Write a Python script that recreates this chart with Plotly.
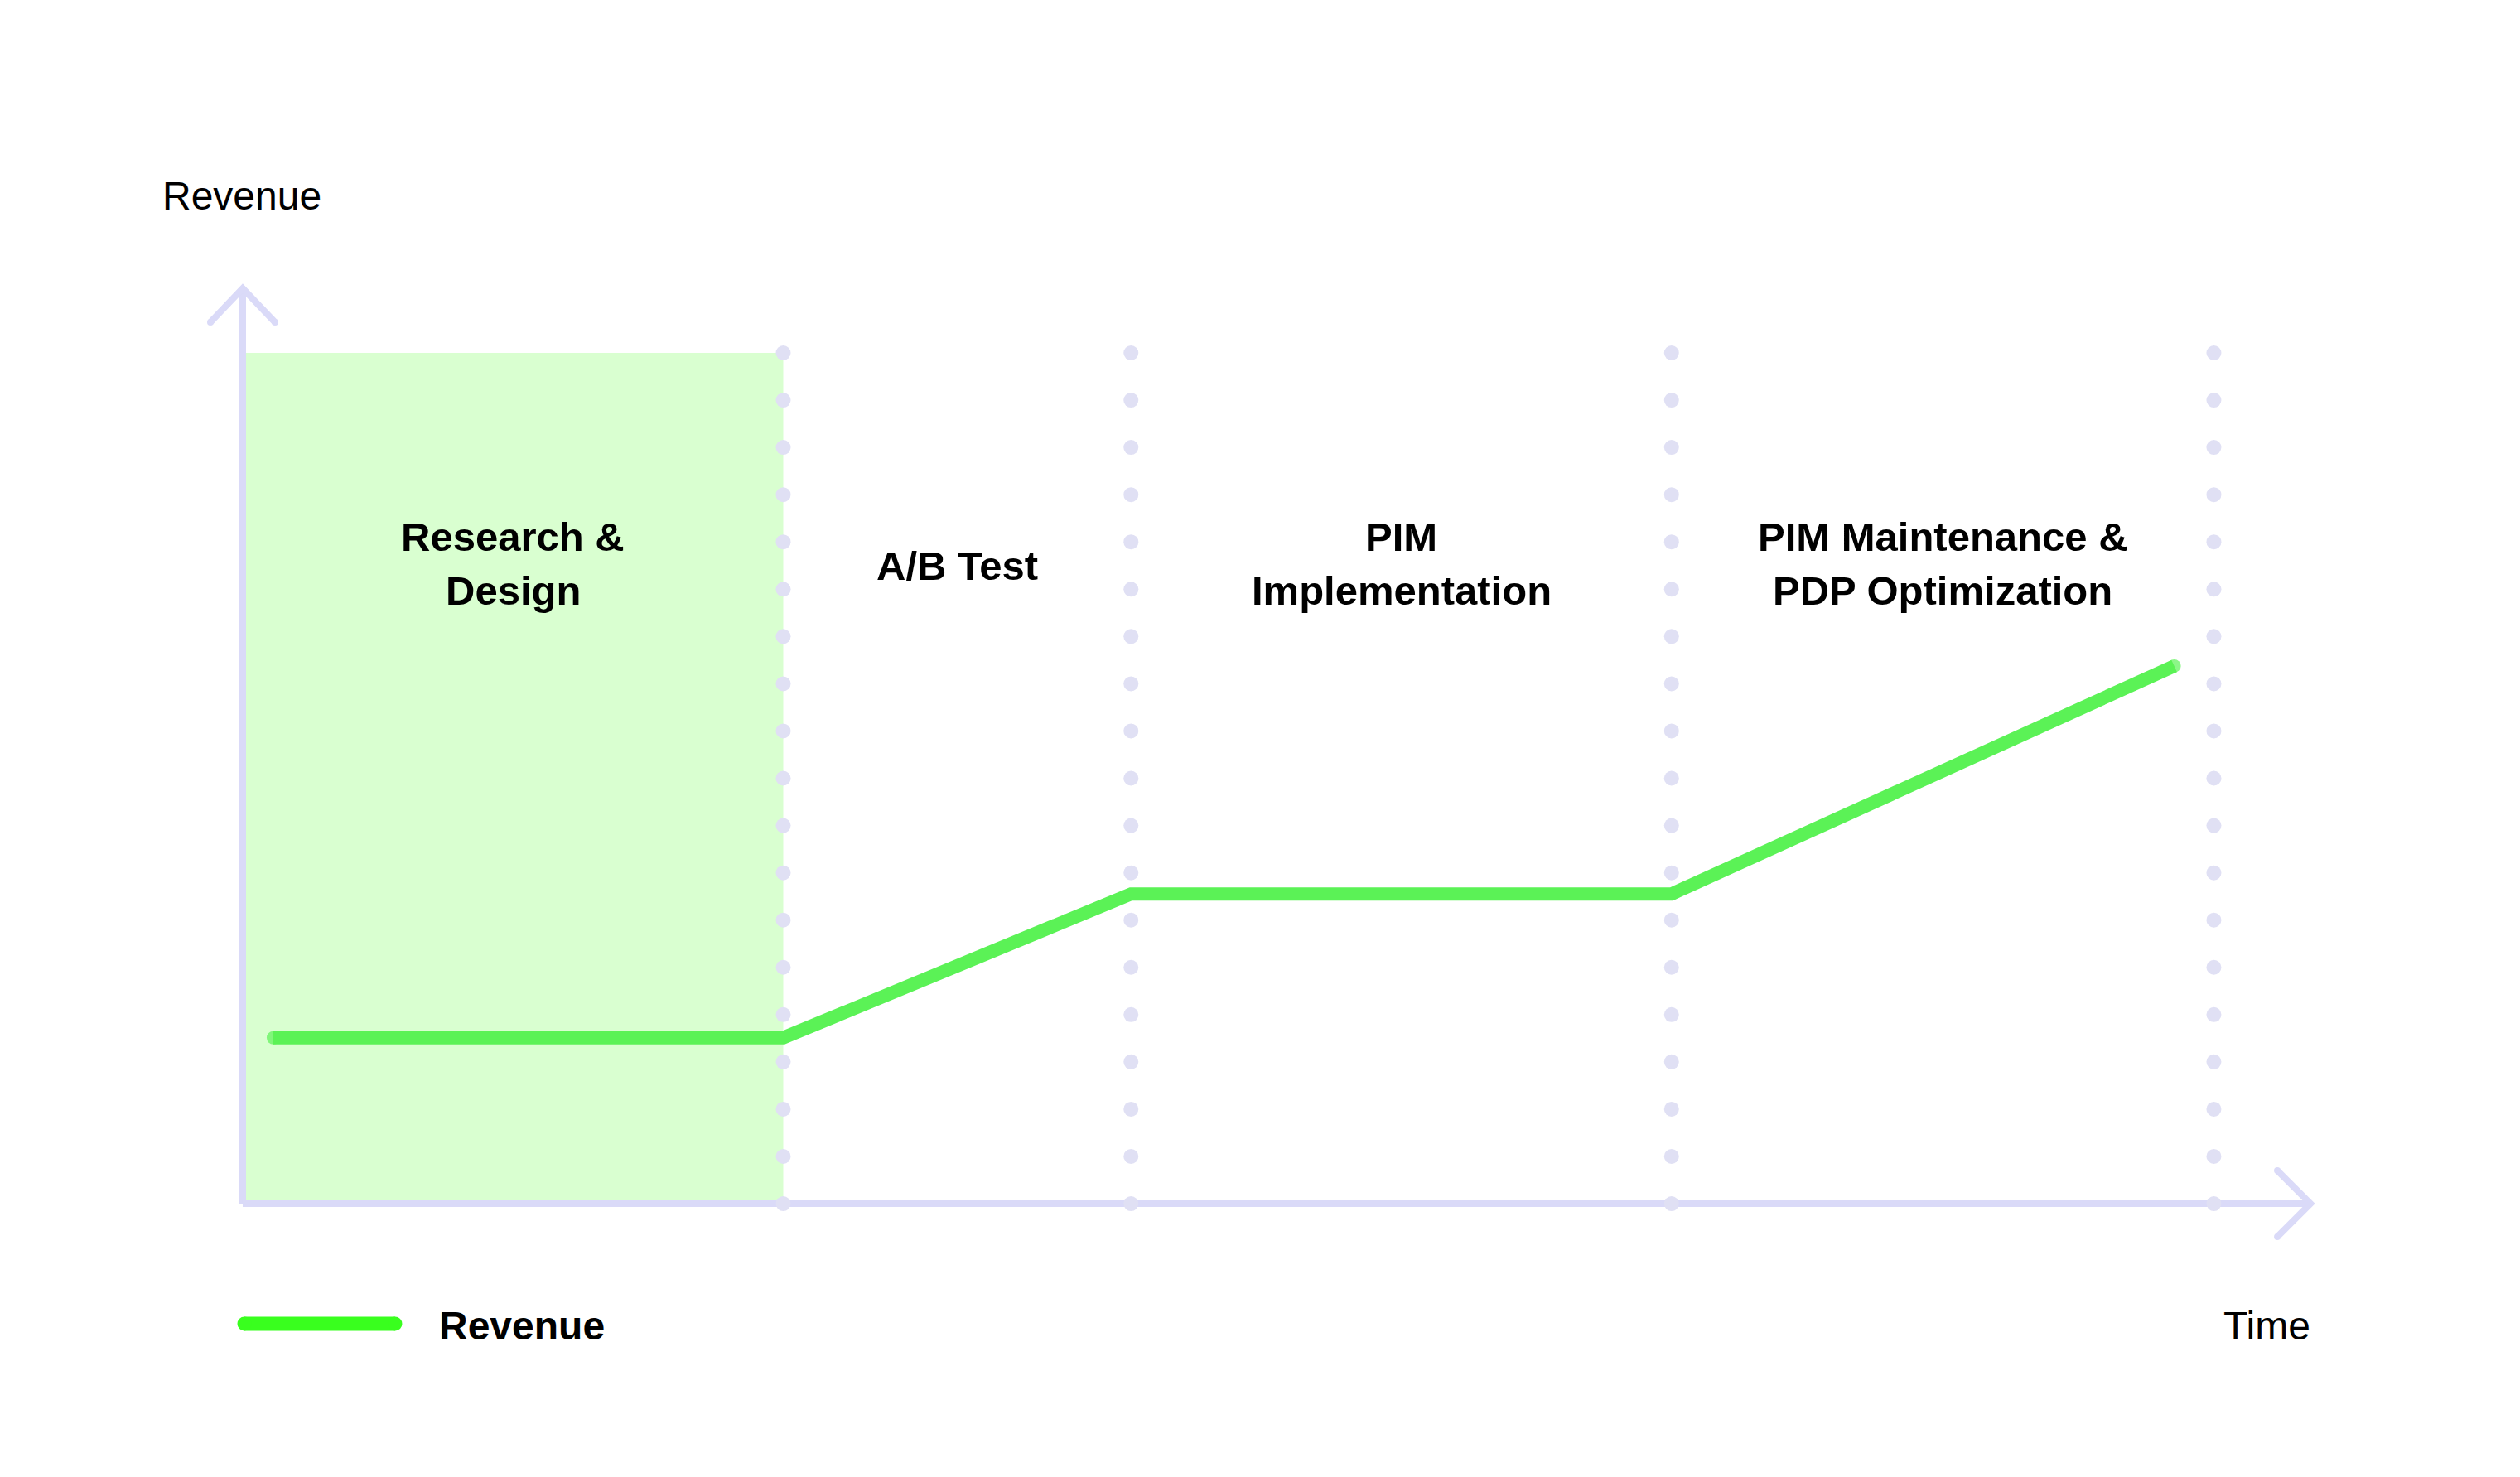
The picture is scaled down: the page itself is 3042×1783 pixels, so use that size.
import numpy as np
import plotly.graph_objects as go

# ---- data ----
phase_labels = ["Research &\nDesign", "A/B Test", "PIM\nImplementation", "PIM Maintenance &\nPDP Optimization"]
phase_bounds = [0.0, 3.0, 4.93, 7.93, 10.94]          # time units
revenue_x = [0.17, 3.0, 4.93, 7.93, 10.72]
revenue_y = [1.95, 1.95, 3.64, 3.64, 6.32]
y_top = 10.0
dot_rows = 19

# ---- styles ----
AXIS_C = "#DADAF8"
DOT_C = "#E0E0F4"
LINE_C = "#5BF256"
LEG_C = "#39FF1E"
RECT_C = "#D9FFD0"
FONT = "Liberation Sans, Arial, sans-serif"

W, H = 3042, 1783
x_range = [-1.347, 12.639]
y_range = [-3.213, 14.148]
px_x = W / (x_range[1] - x_range[0])
px_y = H / (y_range[1] - y_range[0])

fig = go.Figure()

# highlighted first phase
fig.add_shape(type="rect", x0=phase_bounds[0], x1=phase_bounds[1], y0=0, y1=y_top,
              fillcolor=RECT_C, line_width=0, layer="below")

# axes with arrows
x_tip = 11.476
y_tip = 10.76
ax_dx = 39 / px_x
ax_dy = 41 / px_y
axis_x = [0, 0, None, -ax_dx, 0, ax_dx, None, 0, x_tip, None, x_tip - 40 / px_x, x_tip, x_tip - 40 / px_x]
axis_y = [0, y_tip, None, y_tip - ax_dy, y_tip, y_tip - ax_dy, None, 0, 0, None, 40 / px_y, 0, -40 / px_y]
fig.add_trace(go.Scatter(x=axis_x, y=axis_y, mode="lines", line=dict(color=AXIS_C, width=8),
                         hoverinfo="skip", showlegend=False))
# round caps on arrow arms
fig.add_trace(go.Scatter(x=[-ax_dx, ax_dx, x_tip - 40 / px_x, x_tip - 40 / px_x],
                         y=[y_tip - ax_dy, y_tip - ax_dy, 40 / px_y, -40 / px_y],
                         mode="markers", marker=dict(color=AXIS_C, size=8, line_width=0),
                         hoverinfo="skip", showlegend=False))

# dotted phase separators
dot_y = np.linspace(0, y_top, dot_rows)
dx_list, dy_list = [], []
for b in phase_bounds[1:]:
    dx_list += [b] * dot_rows
    dy_list += list(dot_y)
fig.add_trace(go.Scatter(x=dx_list, y=dy_list, mode="markers",
                         marker=dict(color=DOT_C, size=18, line_width=0),
                         hoverinfo="skip", showlegend=False))

# revenue line
n = len(revenue_x)
fig.add_trace(go.Scatter(x=revenue_x, y=revenue_y, mode="lines+markers", name="Revenue",
                         line=dict(color=LINE_C, width=16),
                         marker=dict(color=LINE_C, size=[16] + [0] * (n - 2) + [16], line_width=0),
                         showlegend=False))

# phase labels
line_gap = 65 / px_y
label_mid = 7.50
for i, lab in enumerate(phase_labels):
    cx = (phase_bounds[i] + phase_bounds[i + 1]) / 2
    lines = lab.split("\n")
    k = len(lines)
    mid = label_mid + (0.02 if k > 1 else 0.0)
    for j, t in enumerate(lines):
        yy = mid + ((k - 1) / 2 - j) * line_gap
        fig.add_annotation(x=cx, y=yy, text=f"<b>{t}</b>", showarrow=False,
                           xanchor="center", yanchor="middle",
                           font=dict(family=FONT, size=49, color="#000000"))

# axis titles
fig.add_annotation(x=-99 / px_x, y=(1453 - 236) / px_y, text="Revenue", showarrow=False,
                   xanchor="left", yanchor="middle", font=dict(family=FONT, size=48, color="#000000"))
fig.add_annotation(x=x_tip + 2 / px_x, y=-147 / px_y, text="Time", showarrow=False,
                   xanchor="right", yanchor="middle", font=dict(family=FONT, size=48, color="#000000"))

# custom legend
leg_y = -145 / px_y
leg_x = [(295 - 293) / px_x, (477 - 293) / px_x]
fig.add_trace(go.Scatter(x=leg_x, y=[leg_y, leg_y], mode="lines+markers",
                         line=dict(color=LEG_C, width=17),
                         marker=dict(color=LEG_C, size=17, line_width=0),
                         hoverinfo="skip", showlegend=False))
fig.add_annotation(x=(528 - 293) / px_x, y=-147 / px_y, text="<b>Revenue</b>", showarrow=False,
                   xanchor="left", yanchor="middle", font=dict(family=FONT, size=48, color="#000000"))

fig.update_layout(
    width=W, height=H, margin=dict(l=0, r=0, t=0, b=0),
    paper_bgcolor="white", plot_bgcolor="white",
    xaxis=dict(range=x_range, visible=False, fixedrange=True),
    yaxis=dict(range=y_range, visible=False, fixedrange=True),
)

fig.write_html("out.html", config={"displayModeBar": False},
               post_script="document.body.style.margin='0';document.body.style.overflow='hidden';")
